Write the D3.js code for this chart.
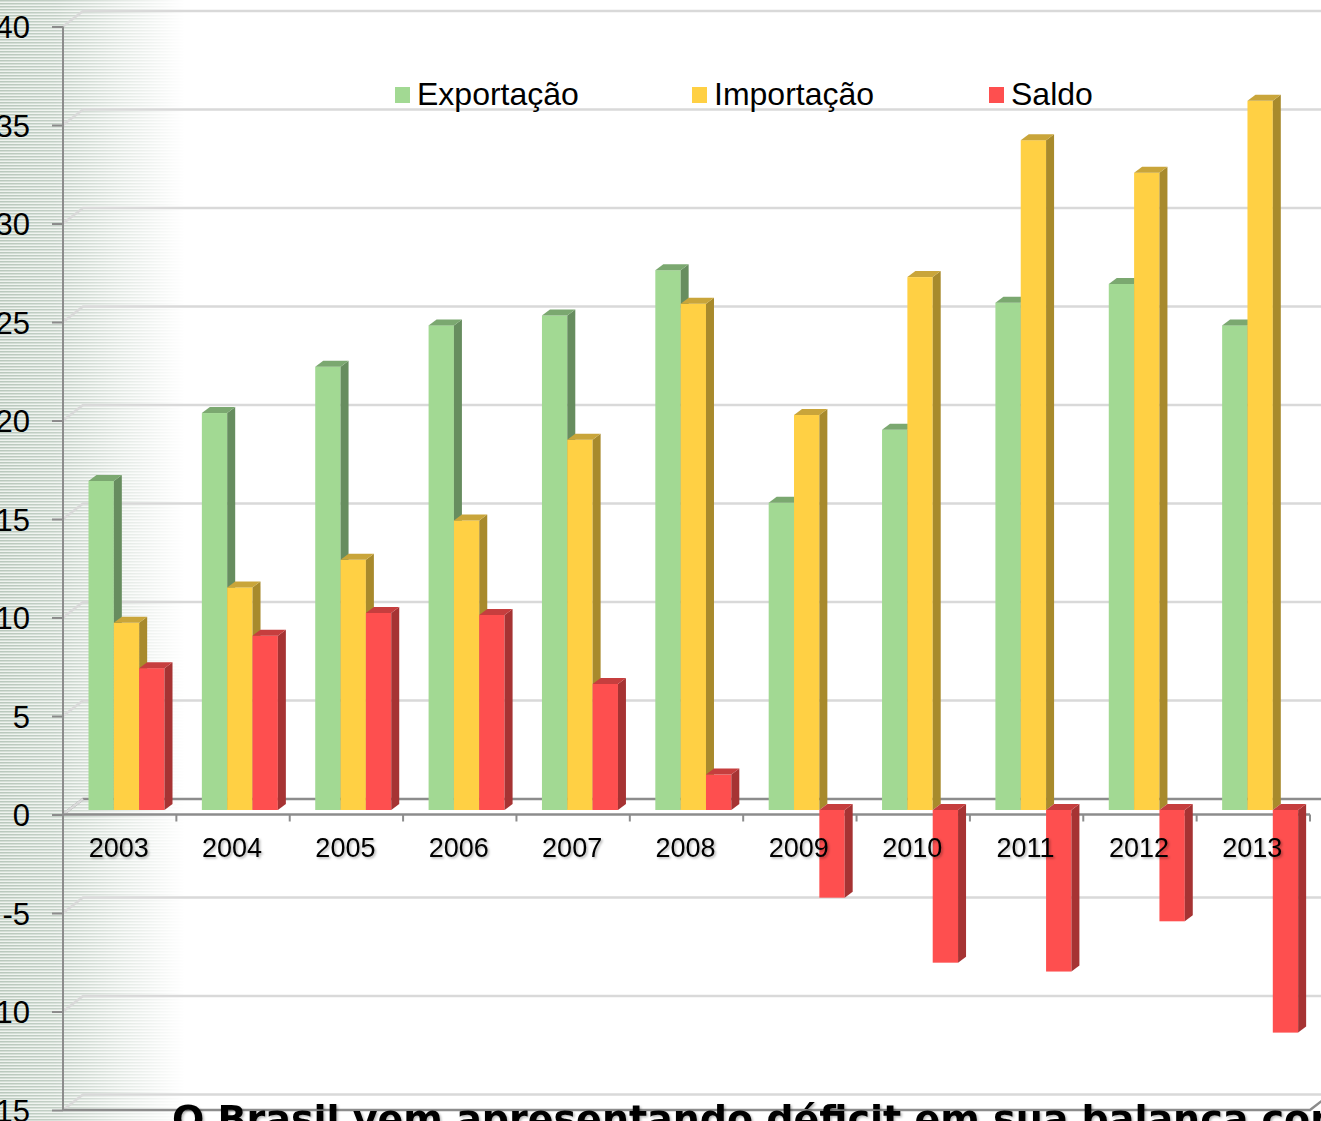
<!DOCTYPE html>
<html>
<head>
<meta charset="utf-8">
<script src="https://cdn.jsdelivr.net/npm/d3@7"></script>
<style>
  body { margin: 0; background: #fff; }
  svg { display: block; }
  text { font-family: Arial, "Liberation Sans", sans-serif; }
</style>
</head>
<body>
<div id="vis"></div>
<script>
// data (bilhões US$)
var years = ['2003', '2004', '2005', '2006', '2007', '2008', '2009', '2010', '2011', '2012', '2013'];
var exportacao = [16.7, 20.15, 22.5, 24.6, 25.1, 27.4, 15.6, 19.3, 25.75, 26.7, 24.6];
var importacao = [9.5, 11.3, 12.7, 14.7, 18.8, 25.7, 20.05, 27.05, 34.0, 32.35, 36.0];
var saldo = [7.2, 8.85, 10.0, 9.9, 6.4, 1.8, -4.45, -7.75, -8.2, -5.65, -11.3];
var seriesNames = ['Exportação', 'Importação', 'Saldo'];
var yTicks = [-15, -10, -5, 0, 5, 10, 15, 20, 25, 30, 35, 40];
var caption = 'O Brasil vem apresentando déficit em sua balança comercial';

var width = 1321;
var height = 1121;

var seriesValues = [exportacao, importacao, saldo];
var fronts = ['#a2d993', '#ffd044', '#fe4f4f'];
var sides = ['#678d5f', '#a88a2c', '#a63333'];
var tops = ['#7ba870', '#c9a53a', '#c63e3e'];

// 3D offsets
var wall = {dx: 20, dy: -15.5};
var plane = {dx: 6, dy: -4.5};
var depth = {dx: 8, dy: -6};

var y = d3.scaleLinear().domain([-15, 40]).range([1110, 26.5]);
var x = d3.scaleBand().domain(years).range([63, 1310]);
var x1 = d3.scaleBand().domain(seriesNames).range([19.5, 95.5]);

var svg = d3.select('#vis').append('svg')
    .attr('width', width)
    .attr('height', height);

var defs = svg.append('defs');

var pat = defs.append('pattern')
    .attr('id', 'stripes')
    .attr('patternUnits', 'userSpaceOnUse')
    .attr('width', 8)
    .attr('height', 3);
pat.append('rect').attr('width', 8).attr('height', 3).attr('fill', '#eef2ee');
pat.append('rect').attr('width', 8).attr('height', 1.5).attr('fill', '#b9c8bc');

var fade = defs.append('linearGradient')
    .attr('id', 'fade')
    .attr('x1', 0).attr('x2', 1).attr('y1', 0).attr('y2', 0);
fade.append('stop').attr('offset', 0).attr('stop-color', '#fff').attr('stop-opacity', 1);
fade.append('stop').attr('offset', 0.3).attr('stop-color', '#fff').attr('stop-opacity', 0.85);
fade.append('stop').attr('offset', 0.65).attr('stop-color', '#fff').attr('stop-opacity', 0.4);
fade.append('stop').attr('offset', 1).attr('stop-color', '#fff').attr('stop-opacity', 0);

defs.append('mask').attr('id', 'fadeMask')
    .append('rect')
    .attr('width', 185).attr('height', height)
    .attr('fill', 'url(#fade)');

var shadow = defs.append('filter').attr('id', 'shadow')
    .attr('x', '-10%').attr('y', '-10%').attr('width', '130%').attr('height', '140%');
shadow.append('feDropShadow')
    .attr('dx', 1.5).attr('dy', 1.5).attr('stdDeviation', 1)
    .attr('flood-color', '#000').attr('flood-opacity', 0.3);

// striped fading band on the left
svg.append('rect')
    .attr('width', 185).attr('height', height)
    .attr('fill', 'url(#stripes)')
    .attr('mask', 'url(#fadeMask)');

// back wall gridlines
var grid = svg.append('g');
grid.selectAll('.grid')
    .data(yTicks)
    .enter().append('path')
    .attr('class', 'grid')
    .attr('fill', 'none')
    .attr('stroke', function (d) { return d === 0 ? '#8c8c8c' : '#d9d9d9'; })
    .attr('stroke-width', 2.5)
    .attr('d', function (d) {
        return 'M63,' + y(d) + 'L' + (63 + wall.dx) + ',' + (y(d) + wall.dy) + 'L' + width + ',' + (y(d) + wall.dy);
    });
// re-draw the diagonal of the zero line in light grey
grid.append('path')
    .attr('stroke', '#d9d9d9').attr('stroke-width', 2.5)
    .attr('d', 'M63,' + y(0) + 'L' + (63 + wall.dx) + ',' + (y(0) + wall.dy));

// floor front edge at the bottom
svg.append('path')
    .attr('fill', 'none')
    .attr('stroke', '#8c8c8c').attr('stroke-width', 2.5)
    .attr('d', 'M63,' + y(-15) + 'L1310,' + y(-15) + 'L' + (1310 + wall.dx) + ',' + (y(-15) + wall.dy));

// category axis at zero
var xAxis = svg.append('g');
xAxis.append('line')
    .attr('x1', 63).attr('x2', 1310)
    .attr('y1', y(0)).attr('y2', y(0))
    .attr('stroke', '#8c8c8c').attr('stroke-width', 2.5);
xAxis.selectAll('.tk')
    .data(years)
    .enter().append('line')
    .attr('class', 'tk')
    .attr('x1', function (d) { return x(d) + x.bandwidth(); })
    .attr('x2', function (d) { return x(d) + x.bandwidth(); })
    .attr('y1', y(0)).attr('y2', y(0) + 7)
    .attr('stroke', '#8c8c8c').attr('stroke-width', 2);

// value axis
var yAxis = svg.append('g')
    .attr('transform', 'translate(63,0)')
    .call(d3.axisLeft(y).tickValues(yTicks).tickSize(11).tickPadding(22)
        .tickFormat(function (d) { return String(d); }));
yAxis.select('.domain').attr('stroke', '#8c8c8c').attr('stroke-width', 2)
    .attr('d', 'M0,' + y(40) + 'V' + y(-15));
yAxis.selectAll('.tick line').attr('stroke', '#8c8c8c').attr('stroke-width', 2);
yAxis.selectAll('.tick text')
    .attr('fill', '#000')
    .attr('dy', '0.36em')
    .style('font-size', '31px')
    .style('font-family', 'Arial, "Liberation Sans", sans-serif');

// bars
function yb(v) {
    return y(v) + plane.dy;
}

var barData = [];
years.forEach(function (yr, j) {
    seriesNames.forEach(function (s, i) {
        barData.push({year: yr, series: i, name: s, value: seriesValues[i][j]});
    });
});

var bars = svg.append('g').selectAll('.bar')
    .data(barData)
    .enter().append('g')
    .attr('class', 'bar');

bars.each(function (d) {
    var g = d3.select(this);
    var x0 = x(d.year) + plane.dx + x1(d.name);
    var w = x1.bandwidth();
    var yTop = yb(Math.max(d.value, 0));
    var yBot = yb(Math.min(d.value, 0));
    g.append('rect')
        .attr('x', x0).attr('y', yTop)
        .attr('width', w).attr('height', yBot - yTop)
        .attr('fill', fronts[d.series]);
    g.append('path')
        .attr('fill', sides[d.series])
        .attr('d', 'M' + (x0 + w) + ',' + yTop +
            'L' + (x0 + w + depth.dx) + ',' + (yTop + depth.dy) +
            'L' + (x0 + w + depth.dx) + ',' + (yBot + depth.dy) +
            'L' + (x0 + w) + ',' + yBot + 'Z');
    g.append('path')
        .attr('fill', tops[d.series])
        .attr('d', 'M' + x0 + ',' + yTop +
            'L' + (x0 + depth.dx) + ',' + (yTop + depth.dy) +
            'L' + (x0 + w + depth.dx) + ',' + (yTop + depth.dy) +
            'L' + (x0 + w) + ',' + yTop + 'Z');
});

// category labels
svg.append('g').selectAll('.lbl')
    .data(years)
    .enter().append('text')
    .attr('class', 'lbl')
    .attr('x', function (d) { return x(d) + x.bandwidth() / 2 - 1; })
    .attr('y', 857)
    .attr('text-anchor', 'middle')
    .attr('filter', 'url(#shadow)')
    .style('font-size', '27px')
    .text(function (d) { return d; });

// legend
var legend = svg.append('g').selectAll('.leg')
    .data(seriesNames)
    .enter().append('g')
    .attr('class', 'leg')
    .attr('transform', function (d, i) { return 'translate(' + (395 + i * 297) + ',0)'; });
legend.append('rect')
    .attr('x', 0).attr('y', 87)
    .attr('width', 15).attr('height', 16)
    .attr('fill', function (d, i) { return fronts[i]; });
legend.append('text')
    .attr('x', 22).attr('y', 105)
    .style('font-size', '32px')
    .text(function (d) { return d; });

// caption, cut by the bottom edge
svg.append('text')
    .attr('x', 172).attr('y', 1132)
    .style('font-family', '"DejaVu Sans", Verdana, sans-serif')
    .style('font-size', '38px')
    .style('font-weight', 'bold')
    .attr('filter', 'url(#shadow)')
    .text(caption);
</script>
</body>
</html>
